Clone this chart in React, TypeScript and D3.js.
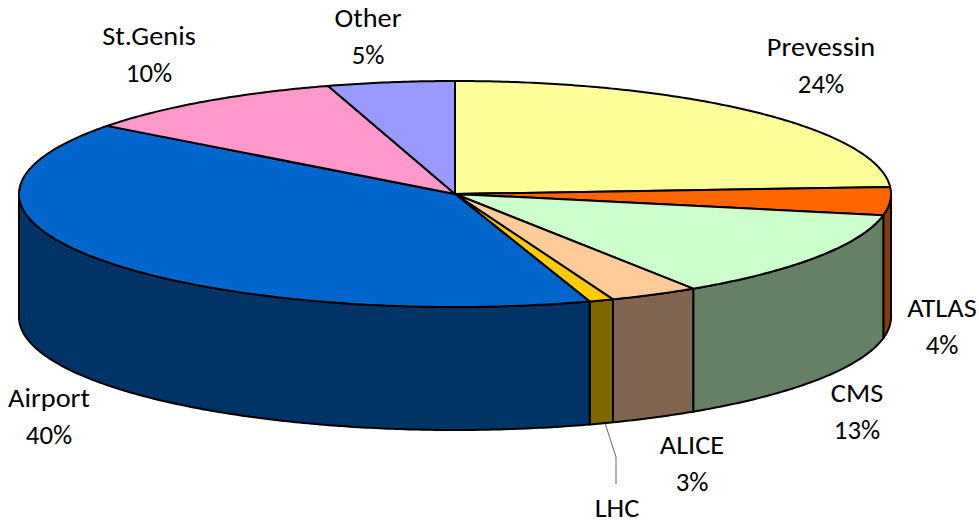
import React from "react";
import * as d3 from "d3";

const categories = ["Prevessin", "ATLAS", "CMS", "ALICE", "LHC", "Airport", "St.Genis", "Other"];
const values = [24, 4, 12.8, 3.3, 0.9, 40.3, 10, 4.7];
const percentLabels = ["24%", "4%", "13%", "3%", "", "40%", "10%", "5%"];
const topColors = ["#FFFF99", "#FF6600", "#CCFFCC", "#FFCC99", "#FFCC00", "#0066CC", "#FF99CC", "#9999FF"];
const sideColors = ["#808050", "#843C0C", "#668066", "#806650", "#806600", "#003366", "#804D66", "#4D4D80"];
const labelX = [821, 942, 857, 692, 617, 49, 149, 368];
const labelY = [47, 308, 393, 445, 508, 398, 36, 18];

const W = 979, H = 524;
const cx = 455, cy = 194, rx = 436, ry = 113, depth = 123;

const unitX = d3.scaleLinear().domain([-1, 1]).range([cx - rx, cx + rx]);
const unitY = d3.scaleLinear().domain([-1, 1]).range([cy - ry, cy + ry]);
const px = (a: number) => unitX(Math.sin(a));
const py = (a: number) => unitY(-Math.cos(a));

const pie = d3.pie<number>().sort(null).startAngle(0).endAngle(2 * Math.PI);
const arcs = pie(values);

function arcPts(a0: number, a1: number, dy = 0, step = 0.01) {
  const pts: [number, number][] = [];
  const n = Math.max(2, Math.ceil((a1 - a0) / step));
  for (let i = 0; i <= n; i++) {
    const a = a0 + ((a1 - a0) * i) / n;
    pts.push([px(a), py(a) + dy]);
  }
  return pts;
}
const line = d3.line();

function topPath(a0: number, a1: number) {
  return line([[cx, cy], ...arcPts(a0, a1)]) + "Z";
}
function sidePath(a0: number, a1: number) {
  const lo = Math.max(a0, Math.PI / 2);
  const hi = Math.min(a1, (3 * Math.PI) / 2);
  if (hi <= lo) return null;
  return line([...arcPts(lo, hi), ...arcPts(lo, hi, depth).reverse()]) + "Z";
}

const nameStretch = 1.09;
const percentStretch = 1.03;

export default function App() {
  return (
    <svg
      width={W}
      height={H}
      viewBox={`0 0 ${W} ${H}`}
      style={{ position: "absolute", left: 0, top: 0, background: "#fff" }}
      fontFamily="Carlito, 'Open Sans', 'Noto Sans', sans-serif"
    >
      <path d="M605 423 L616 457 L616 484" fill="none" stroke="#666" strokeWidth={1} />
      {arcs.map((d, i) => {
        const p = sidePath(d.startAngle, d.endAngle);
        return p ? (
          <path key={"s" + i} d={p} fill={sideColors[i]} stroke="#000" strokeWidth={2} strokeLinejoin="round" />
        ) : null;
      })}
      {arcs.map((d, i) => (
        <path
          key={"t" + i}
          d={topPath(d.startAngle, d.endAngle)}
          fill={topColors[i]}
          stroke="#000"
          strokeWidth={2}
          strokeLinejoin="round"
        />
      ))}
      {categories.map((c, i) => (
        <g key={c} fontSize={26} fill="#000" textAnchor="middle">
          <text transform={`translate(${labelX[i]},${labelY[i] + 9}) scale(${nameStretch},1)`}>{c}</text>
          {percentLabels[i] && (
            <text transform={`translate(${labelX[i]},${labelY[i] + 46}) scale(${percentStretch},1)`}>{percentLabels[i]}</text>
          )}
        </g>
      ))}
    </svg>
  );
}
